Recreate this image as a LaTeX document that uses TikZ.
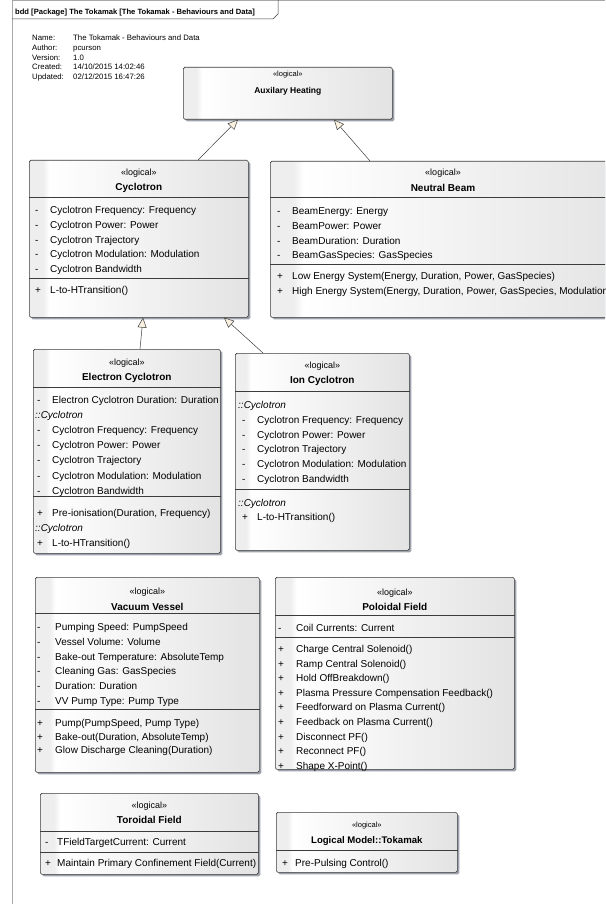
\documentclass[tikz,border=0pt]{standalone}
\usepackage{fontspec}
\setmainfont{Liberation Sans}
\usetikzlibrary{arrows.meta,calc,shadows}
\definecolor{boxline}{HTML}{3C3C3C}
\definecolor{shadowc}{HTML}{9EA2AC}
\definecolor{tipfill}{HTML}{FBF1E0}
\definecolor{framec}{HTML}{A8A8A8}
\pgfdeclarehorizontalshading{boxshade}{100bp}{color(0bp)=(gray!13); color(25bp)=(gray!13); color(28.2bp)=(gray!13); color(29.5bp)=(white); color(75bp)=(gray!22); color(100bp)=(gray!22)}
\newcommand\sg[2][15pt]{\makebox[#1][l]{#2}}
\tikzset{
  umlbox/.style={draw=boxline, line width=0.6pt, rounded corners=1.5pt, shading=boxshade,
    inner sep=0pt, anchor=north west,
    drop shadow={shadow xshift=2pt, shadow yshift=-2pt, fill=shadowc, opacity=1}},
  sepline/.style={draw=boxline, line width=0.6pt},
  stereo/.style={inner sep=0pt, font=\fontsize{9}{11}\selectfont},
  smallstereo/.style={inner sep=0pt, font=\fontsize{7.5}{9}\selectfont},
  bname/.style={inner sep=0pt, font=\bfseries\fontsize{10}{12}\selectfont},
  rows/.style={inner sep=0pt, anchor=base west, font=\fontsize{10}{#1}\selectfont},
  rows/.default=14.8,
  gen/.style={draw=boxline, line width=0.5pt, -{Triangle[length=10pt, width=9pt, fill=tipfill]}},
  info/.style={inner sep=0pt, anchor=base west, font=\fontsize{7.8}{9.7}\selectfont}
}
\begin{document}
\begin{tikzpicture}[x=1pt, y=-1pt]
\useasboundingbox (0,0) rectangle (605,904);
\clip (0,0) rectangle (605,904);
\fill[white] (0,0) rectangle (605,904);

% frame
\draw[framec, line width=0.6pt] (12,0.4) -- (605,0.4);
\draw[framec, line width=0.6pt] (12,0) -- (12,904);
\draw[boxline, line width=0.5pt] (12,19) -- (273,19) -- (278,14) -- (278,0);
\node[inner sep=0pt, anchor=west, font=\bfseries\fontsize{7.6}{9}\selectfont] (hdr) at (15,12.5)
  {bdd [Package] The Tokamak [The Tokamak - Behaviours and Data]};

% info
\node[info] (infolab) at (32,40.8) {\begin{tabular}[t]{@{}l@{}}Name:\\Author:\\Version:\\Created:\\Updated:\end{tabular}};
\node[info] (infoval) at (73,40.8) {\begin{tabular}[t]{@{}l@{}}The Tokamak - Behaviours and Data\\pcurson\\1.0\\14/10/2015 14:02:46\\02/12/2015 16:47:26\end{tabular}};

% Auxilary Heating
\node[umlbox, minimum width=209pt, minimum height=52pt] (aux) at (183,67) {};
\node[smallstereo] (auxst) at (aux.north |- 0,75) {«logical»};
\node[inner sep=0pt, font=\bfseries\fontsize{8.5}{10}\selectfont] (auxnm) at (aux.north |- 0,91) {Auxilary Heating};

% Cyclotron
\node[umlbox, minimum width=219pt, minimum height=157pt] (cyc) at (29,160) {};
\node[stereo] (cycst) at (cyc.north |- 0,173) {«logical»};
\node[bname] (cycnm) at (cyc.north |- 0,188) {Cyclotron};
\draw[sepline] (cyc.west |- 0,197) -- (cyc.east |- 0,197);
\draw[sepline] (cyc.west |- 0,278) -- (cyc.east |- 0,278);
\node[rows] (cycat) at (35,213.5) {\begin{tabular}[t]{@{}l@{}}
\sg{-}Cyclotron Frequency: Frequency\\
\sg{-}Cyclotron Power: Power\\
\sg{-}Cyclotron Trajectory\\
\sg{-}Cyclotron Modulation: Modulation\\
\sg{-}Cyclotron Bandwidth\end{tabular}};
\node[rows] (cycop) at (35,293.5) {\sg{+}L-to-HTransition()};

% Neutral Beam
\node[umlbox, minimum width=370pt, minimum height=156pt] (nb) at (270,161) {};
\node[stereo] (nbst) at (443,173) {«logical»};
\node[bname] (nbnm) at (443,188) {Neutral Beam};
\draw[sepline] (nb.west |- 0,197) -- (nb.east |- 0,197);
\draw[sepline] (nb.west |- 0,264) -- (nb.east |- 0,264);
\node[rows] (nbat) at (277,214.5) {\begin{tabular}[t]{@{}l@{}}
\sg{-}BeamEnergy: Energy\\
\sg{-}BeamPower: Power\\
\sg{-}BeamDuration: Duration\\
\sg{-}BeamGasSpecies: GasSpecies\end{tabular}};
\node[rows] (nbop) at (277,279.5) {\begin{tabular}[t]{@{}l@{}}
\sg{+}Low Energy System(Energy, Duration, Power, GasSpecies)\\
\sg{+}High Energy System(Energy, Duration, Power, GasSpecies, Modulation)\end{tabular}};

% Electron Cyclotron
\node[umlbox, minimum width=187pt, minimum height=204pt] (ec) at (33,349) {};
\node[stereo] (ecst) at (ec.north |- 0,363) {«logical»};
\node[bname] (ecnm) at (ec.north |- 0,378) {Electron Cyclotron};
\draw[sepline] (ec.west |- 0,387) -- (ec.east |- 0,387);
\draw[sepline] (ec.west |- 0,496) -- (ec.east |- 0,496);
\node[rows=15.1] (ecat) at (37,403.5) {\begin{tabular}[t]{@{}l@{}}
\sg{-}Electron Cyclotron Duration: Duration\\
\hspace*{-2pt}\textit{::Cyclotron}\\
\sg{-}Cyclotron Frequency: Frequency\\
\sg{-}Cyclotron Power: Power\\
\sg{-}Cyclotron Trajectory\\
\sg{-}Cyclotron Modulation: Modulation\\
\sg{-}Cyclotron Bandwidth\end{tabular}};
\node[rows=15] (ecop) at (37,516.5) {\begin{tabular}[t]{@{}l@{}}
\sg{+}Pre-ionisation(Duration, Frequency)\\
\hspace*{-2pt}\textit{::Cyclotron}\\
\sg{+}L-to-HTransition()\end{tabular}};

% Ion Cyclotron
\node[umlbox, minimum width=174pt, minimum height=197pt] (ic) at (235,353) {};
\node[stereo] (icst) at (ic.north |- 0,366) {«logical»};
\node[bname] (icnm) at (ic.north |- 0,381) {Ion Cyclotron};
\draw[sepline] (ic.west |- 0,391) -- (ic.east |- 0,391);
\draw[sepline] (ic.west |- 0,489) -- (ic.east |- 0,489);
\node[rows] (icat) at (238,408.5) {\begin{tabular}[t]{@{}l@{}}
\textit{::Cyclotron}\\
\hspace*{4pt}\sg{-}Cyclotron Frequency: Frequency\\
\hspace*{4pt}\sg{-}Cyclotron Power: Power\\
\hspace*{4pt}\sg{-}Cyclotron Trajectory\\
\hspace*{4pt}\sg{-}Cyclotron Modulation: Modulation\\
\hspace*{4pt}\sg{-}Cyclotron Bandwidth\end{tabular}};
\node[rows=14.2] (icop) at (238,506.5) {\begin{tabular}[t]{@{}l@{}}
\textit{::Cyclotron}\\
\hspace*{4pt}\sg{+}L-to-HTransition()\end{tabular}};

% generalizations
\draw[gen] ([xshift=169pt]cyc.north west) -- ([xshift=55pt]aux.south west);
\draw[gen] ([xshift=100pt]nb.north west) -- ([xshift=151pt]aux.south west);
\draw[gen] ([xshift=107pt]ec.north west) -- ([xshift=114pt]cyc.south west);
\draw[gen] ([xshift=28pt]ic.north west) -- ([xshift=195pt]cyc.south west);

% Vacuum Vessel
\node[umlbox, minimum width=224pt, minimum height=195pt] (vv) at (35,577) {};
\node[stereo] (vvst) at (vv.north |- 0,592) {«logical»};
\node[bname] (vvnm) at (vv.north |- 0,607) {Vacuum Vessel};
\draw[sepline] (vv.west |- 0,613) -- (vv.east |- 0,613);
\draw[sepline] (vv.west |- 0,709) -- (vv.east |- 0,709);
\node[rows] (vvat) at (37,630.5) {\begin{tabular}[t]{@{}l@{}}
\sg[18pt]{-}Pumping Speed: PumpSpeed\\
\sg[18pt]{-}Vessel Volume: Volume\\
\sg[18pt]{-}Bake-out Temperature: AbsoluteTemp\\
\sg[18pt]{-}Cleaning Gas: GasSpecies\\
\sg[18pt]{-}Duration: Duration\\
\sg[18pt]{-}VV Pump Type: Pump Type\end{tabular}};
\node[rows=13.7] (vvop) at (37,726.5) {\begin{tabular}[t]{@{}l@{}}
\sg[18pt]{+}Pump(PumpSpeed, Pump Type)\\
\sg[18pt]{+}Bake-out(Duration, AbsoluteTemp)\\
\sg[18pt]{+}Glow Discharge Cleaning(Duration)\end{tabular}};

% Poloidal Field
\node[umlbox, minimum width=239pt, minimum height=192pt] (pf) at (275,577) {};
\node[stereo] (pfst) at (pf.north |- 0,593) {«logical»};
\node[bname] (pfnm) at (pf.north |- 0,607) {Poloidal Field};
\draw[sepline] (pf.west |- 0,615) -- (pf.east |- 0,615);
\draw[sepline] (pf.west |- 0,637) -- (pf.east |- 0,637);
\node[rows] (pfat) at (278,631.5) {\sg[18pt]{-}Coil Currents: Current};
\node[rows=14.6] (pfop) at (278,652.5) {\begin{tabular}[t]{@{}l@{}}
\sg[18pt]{+}Charge Central Solenoid()\\
\sg[18pt]{+}Ramp Central Solenoid()\\
\sg[18pt]{+}Hold OffBreakdown()\\
\sg[18pt]{+}Plasma Pressure Compensation Feedback()\\
\sg[18pt]{+}Feedforward on Plasma Current()\\
\sg[18pt]{+}Feedback on Plasma Current()\\
\sg[18pt]{+}Disconnect PF()\\
\sg[18pt]{+}Reconnect PF()\\
\sg[18pt]{+}Shape X-Point()\end{tabular}};

% Toroidal Field
\node[umlbox, minimum width=218pt, minimum height=81pt] (tf) at (40,793) {};
\node[stereo] (tfst) at (tf.north |- 0,806) {«logical»};
\node[bname] (tfnm) at (tf.north |- 0,820) {Toroidal Field};
\draw[sepline] (tf.west |- 0,831) -- (tf.east |- 0,831);
\draw[sepline] (tf.west |- 0,852) -- (tf.east |- 0,852);
\node[rows] (tfat) at (45,845.5) {\sg[12pt]{-}TFieldTargetCurrent: Current};
\node[rows] (tfop) at (45,866.5) {\sg[12pt]{+}Maintain Primary Confinement Field(Current)};

% Logical Model::Tokamak
\node[umlbox, minimum width=181pt, minimum height=60pt] (lm) at (276,812) {};
\node[smallstereo] (lmst) at (lm.north |- 0,826) {«logical»};
\node[inner sep=0pt, font=\bfseries\fontsize{9.6}{11}\selectfont] (lmnm) at (lm.north |- 0,841) {Logical Model::Tokamak};
\draw[sepline] (lm.west |- 0,850) -- (lm.east |- 0,850);
\node[rows] (lmop) at (282,866.5) {\sg[13pt]{+}Pre-Pulsing Control()};
\end{tikzpicture}
\end{document}
